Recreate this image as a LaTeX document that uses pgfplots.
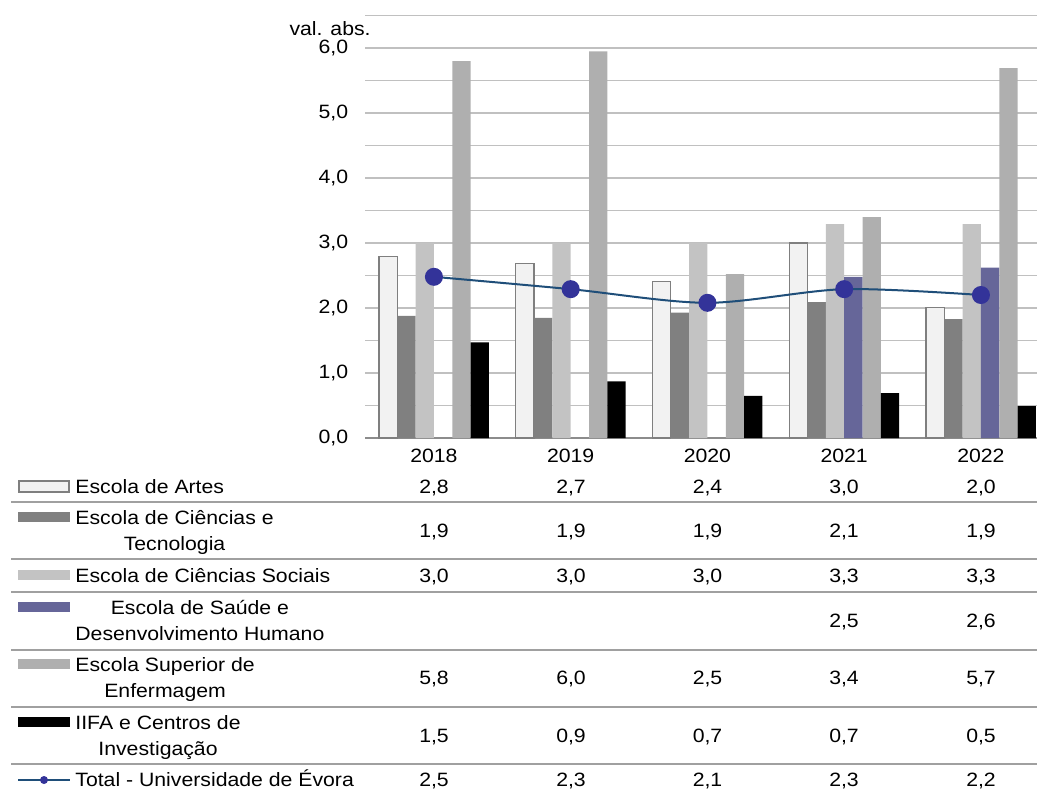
\documentclass[border=0pt]{standalone}
\usepackage{pgfplots}
\pgfplotsset{compat=1.18}
\usepackage{fontspec}
\setmainfont[FakeStretch=1.1]{Liberation Sans}
\definecolor{artes}{HTML}{F2F2F2}
\definecolor{artesb}{HTML}{7F7F7F}
\definecolor{ct}{HTML}{808080}
\definecolor{cs}{HTML}{C3C3C3}
\definecolor{sdh}{HTML}{666699}
\definecolor{enf}{HTML}{AFAFAF}
\definecolor{iifa}{HTML}{000000}
\definecolor{totl}{HTML}{1F4E79}
\definecolor{totm}{HTML}{333399}
\definecolor{gridc}{HTML}{C0C0C0}
\definecolor{sepc}{HTML}{A0A0A0}
\definecolor{axc}{HTML}{8C8C8C}
\begin{document}
\fontsize{9.65}{13}\selectfont
\begin{tikzpicture}
\useasboundingbox (0,0) rectangle (518.5pt,-394.5pt);
\clip (0,0) rectangle (518.5pt,-394.5pt);
\begin{axis}[
  at={(182.5pt,-219pt)}, anchor=south west,
  scale only axis, width=336pt, height=211.25pt,
  xmin=-0.504, xmax=4.41, ymin=0, ymax=6.5,
  xtick={0,1,2,3,4}, xticklabels={2018,2019,2020,2021,2022},
  ytick={0,1,...,6}, minor ytick={0.5,1.5,...,6.5},
  ymajorgrids, yminorgrids,
  major grid style={gridc, line width=0.75pt},
  minor grid style={gridc, line width=0.75pt},
  axis x line*=bottom, axis y line*=left,
  axis line style={-},
  y axis line style={draw=none},
  x axis line style={axc, line width=1pt},
  tick style={draw=none},
  major tick length=0pt, minor tick length=0pt,
  tick label style={font=\fontsize{9.65}{13}\selectfont, text=black},
  xticklabel style={anchor=base, yshift=-12pt},
  yticklabel style={xshift=-5pt},
  /pgf/number format/.cd, use comma, fixed, fixed zerofill, precision=1, assume math mode=true,
  /pgfplots/.cd,
  clip=false,
]
\addplot[ybar, bar width=0.134, bar shift=-0.335, fill=artes, draw=artesb, line width=0.6pt]
  coordinates {(0,2.79) (1,2.69) (2,2.41) (3,3.0) (4,2.01)};
\addplot[ybar, bar width=0.134, bar shift=-0.201, fill=ct, draw=none]
  coordinates {(0,1.88) (1,1.85) (2,1.93) (3,2.09) (4,1.83)};
\addplot[ybar, bar width=0.134, bar shift=-0.067, fill=cs, draw=none]
  coordinates {(0,3.0) (1,3.0) (2,3.0) (3,3.29) (4,3.29)};
\addplot[ybar, bar width=0.134, bar shift=0.067, fill=sdh, draw=none]
  coordinates {(3,2.48) (4,2.62)};
\addplot[ybar, bar width=0.134, bar shift=0.201, fill=enf, draw=none]
  coordinates {(0,5.8) (1,5.95) (2,2.52) (3,3.4) (4,5.69)};
\addplot[ybar, bar width=0.134, bar shift=0.335, fill=iifa, draw=none]
  coordinates {(0,1.47) (1,0.87) (2,0.65) (3,0.69) (4,0.49)};
\addplot[totl, line width=1pt, smooth, mark=*, mark size=4pt, mark options={fill=totm, draw=totm}]
  coordinates {(0,2.48) (1,2.29) (2,2.08) (3,2.29) (4,2.2)};
\end{axis}
\begin{scope}[x=0.5pt,y=-0.5pt]
  \node[anchor=base east, inner sep=0] at (371,35) {val. abs.};
  \foreach \yy in {502,559,592,650,707,764} \draw[sepc, line width=1pt] (11,\yy) -- (1037,\yy);
  % legend keys
  \draw[artesb, fill=artes, line width=0.8pt] (19,481) rectangle (69,492);
  \fill[ct] (18,512) rectangle (70,522);
  \fill[cs] (18,570) rectangle (70,580);
  \fill[sdh] (18,602) rectangle (70,612);
  \fill[enf] (18,659) rectangle (70,669);
  \fill[iifa] (18,717) rectangle (70,727);
  \draw[totl, line width=1pt] (18,780) -- (70,780);
  \fill[totm] (44,780) circle[radius=2pt];
  % row labels
  \node[anchor=base west, inner sep=0] at (75,493) {Escola de Artes};
  \node[anchor=base west, inner sep=0] at (75,524) {\begin{tabular}[t]{@{}c@{}}Escola de Ciências e\\Tecnologia\end{tabular}};
  \node[anchor=base west, inner sep=0] at (75,582) {Escola de Ciências Sociais};
  \node[anchor=base west, inner sep=0] at (75,614) {\begin{tabular}[t]{@{}c@{}}Escola de Saúde e\\Desenvolvimento Humano\end{tabular}};
  \node[anchor=base west, inner sep=0] at (75,671) {\begin{tabular}[t]{@{}c@{}}Escola Superior de\\Enfermagem\end{tabular}};
  \node[anchor=base west, inner sep=0] at (75,729) {\begin{tabular}[t]{@{}c@{}}IIFA e Centros de\\Investigação\end{tabular}};
  \node[anchor=base west, inner sep=0] at (75,786) {Total - Universidade de Évora};
  % values
  \foreach \xx/\a/\b/\c/\d/\e/\f/\g in {
     434/{2,8}/{1,9}/{3,0}/{}/{5,8}/{1,5}/{2,5},
     571/{2,7}/{1,9}/{3,0}/{}/{6,0}/{0,9}/{2,3},
     707.5/{2,4}/{1,9}/{3,0}/{}/{2,5}/{0,7}/{2,1},
     844/{3,0}/{2,1}/{3,3}/{2,5}/{3,4}/{0,7}/{2,3},
     981/{2,0}/{1,9}/{3,3}/{2,6}/{5,7}/{0,5}/{2,2}} {
    \node[anchor=base, inner sep=0] at (\xx,493) {\a};
    \node[anchor=base, inner sep=0] at (\xx,537) {\b};
    \node[anchor=base, inner sep=0] at (\xx,582) {\c};
    \node[anchor=base, inner sep=0] at (\xx,627) {\d};
    \node[anchor=base, inner sep=0] at (\xx,684) {\e};
    \node[anchor=base, inner sep=0] at (\xx,742) {\f};
    \node[anchor=base, inner sep=0] at (\xx,786) {\g};
  }
\end{scope}
\end{tikzpicture}
\end{document}
